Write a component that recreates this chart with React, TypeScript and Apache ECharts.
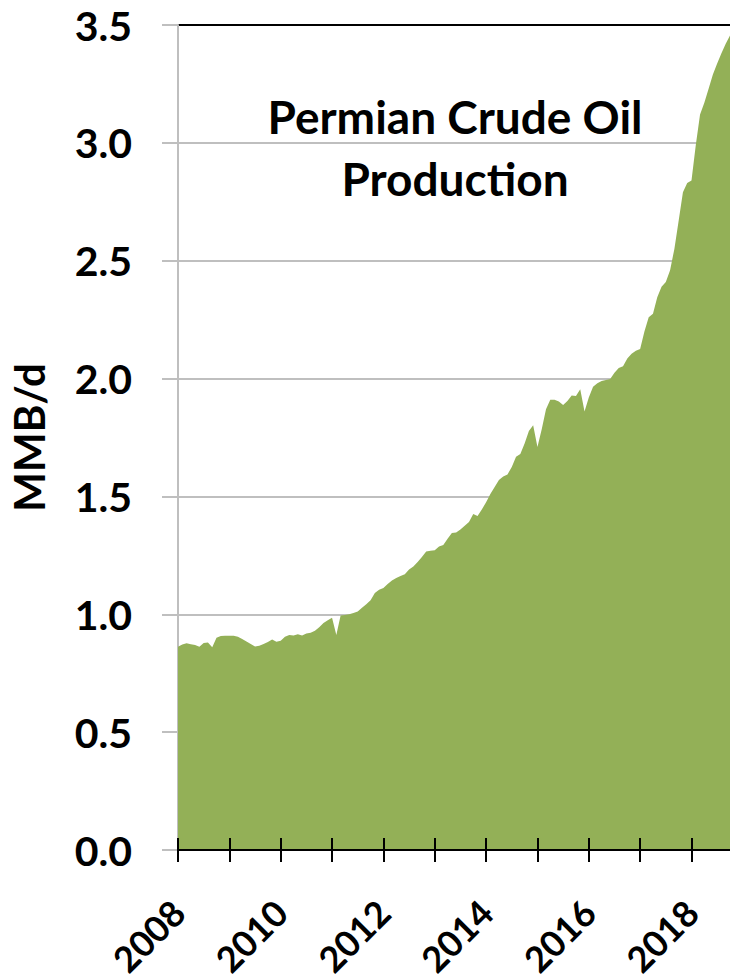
import React, { useEffect, useRef } from "react";
import * as echarts from "echarts";

const startYear = 2008;
const yearLabels = ["2008", "2010", "2012", "2014", "2016", "2018"];
const yTicks = [0, 0.5, 1.0, 1.5, 2.0, 2.5, 3.0, 3.5];

const prod2008 = [0.862, 0.872, 0.877, 0.873, 0.870, 0.862, 0.878, 0.880, 0.860, 0.900, 0.908, 0.909];
const prod2009 = [0.909, 0.909, 0.905, 0.895, 0.885, 0.874, 0.863, 0.866, 0.874, 0.882, 0.893, 0.884];
const prod2010 = [0.888, 0.905, 0.912, 0.910, 0.915, 0.910, 0.918, 0.922, 0.930, 0.945, 0.963, 0.975];
const prod2011 = [0.985, 0.912, 0.995, 0.997, 1.000, 1.005, 1.012, 1.028, 1.043, 1.060, 1.090, 1.104];
const prod2012 = [1.112, 1.128, 1.143, 1.154, 1.162, 1.170, 1.190, 1.203, 1.222, 1.243, 1.266, 1.270];
const prod2013 = [1.272, 1.288, 1.294, 1.320, 1.345, 1.347, 1.360, 1.376, 1.392, 1.425, 1.417, 1.445];
const prod2014 = [1.475, 1.510, 1.540, 1.570, 1.585, 1.593, 1.625, 1.668, 1.680, 1.725, 1.778, 1.802];
const prod2015 = [1.710, 1.785, 1.870, 1.910, 1.910, 1.903, 1.888, 1.905, 1.928, 1.926, 1.955, 1.860];
const prod2016 = [1.920, 1.965, 1.980, 1.990, 1.994, 1.998, 2.025, 2.045, 2.052, 2.085, 2.105, 2.118];
const prod2017 = [2.125, 2.200, 2.260, 2.275, 2.345, 2.390, 2.410, 2.460, 2.550, 2.670, 2.790, 2.830];
const prod2018 = [2.840, 2.990, 3.120, 3.170, 3.230, 3.290, 3.337, 3.380, 3.420, 3.455];

const production = [
  ...prod2008, ...prod2009, ...prod2010, ...prod2011, ...prod2012, ...prod2013,
  ...prod2014, ...prod2015, ...prod2016, ...prod2017, ...prod2018,
];

const months = production.map((_, i) => {
  const y = startYear + Math.floor(i / 12);
  const m = (i % 12) + 1;
  return `${y}-${m < 10 ? "0" + m : m}`;
});

const FONT = "Lato";

export default function App() {
  const ref = useRef<HTMLDivElement>(null);
  useEffect(() => {
    document.body.style.margin = "0";
    const chart = echarts.init(ref.current!, null, { renderer: "svg" });
    const gridColors = yTicks.map((v, i) => (i === yTicks.length - 1 ? "#000000" : "#bfbfbf"));
    chart.setOption({
      animation: false,
      backgroundColor: "#ffffff",
      title: {
        text: "Permian Crude Oil\nProduction",
        left: 450,
        top: 80,
        textAlign: "center",
        textStyle: {
          fontFamily: FONT,
          fontWeight: "bold",
          fontSize: 46,
          lineHeight: 62,
          color: "#000",
        },
      },
      grid: { left: 175, right: 0, top: 25, bottom: 130, containLabel: false },
      xAxis: [
        {
          type: "category",
          data: months,
          boundaryGap: false,
          axisLine: { show: true, lineStyle: { color: "#000", width: 2 } },
          axisTick: {
            show: true,
            interval: (i: number) => i % 12 === 0,
            length: 12,
            lineStyle: { color: "#000", width: 2 },
          },
          axisLabel: {
            interval: (i: number, v: string) => yearLabels.includes(v.slice(0, 4)) && v.endsWith("-01"),
            formatter: (v: string) => v.slice(0, 4),
            rotate: 45,
            margin: 56,
            fontFamily: FONT,
            fontWeight: "bold",
            fontSize: 36,
            color: "#000",
          },
          splitLine: { show: false },
          z: 10,
        },
        {
          type: "category",
          data: months,
          boundaryGap: false,
          position: "bottom",
          axisLine: { show: false },
          axisTick: {
            show: true,
            inside: true,
            interval: (i: number) => i % 12 === 0,
            length: 12,
            lineStyle: { color: "#000", width: 2 },
          },
          axisLabel: { show: false },
          splitLine: { show: false },
          z: 10,
        },
      ],
      yAxis: {
        type: "value",
        min: 0,
        max: 3.5,
        interval: 0.5,
        name: "MMB/d",
        nameLocation: "middle",
        nameGap: 128,
        nameRotate: 90,
        nameTextStyle: {
          fontFamily: FONT,
          fontWeight: "bold",
          fontSize: 42,
          color: "#000",
        },
        axisLine: { show: true, lineStyle: { color: "#bfbfbf", width: 2 } },
        axisTick: { show: true, length: 16, lineStyle: { color: "#bfbfbf", width: 2 } },
        axisLabel: {
          formatter: (v: number) => v.toFixed(1),
          margin: 46,
          fontFamily: FONT,
          fontWeight: "bold",
          fontSize: 41,
          color: "#000",
        },
        splitLine: { show: true, lineStyle: { color: gridColors, width: 2 } },
      },
      series: [
        {
          type: "line",
          data: production,
          xAxisIndex: 0,
          showSymbol: false,
          symbol: "none",
          lineStyle: { width: 0, color: "#93b057" },
          itemStyle: { color: "#93b057" },
          areaStyle: { color: "#93b057", opacity: 1 },
          z: 2,
        },
      ],
    });
    return () => chart.dispose();
  }, []);
  return <div ref={ref} style={{ width: 730, height: 980 }} />;
}
